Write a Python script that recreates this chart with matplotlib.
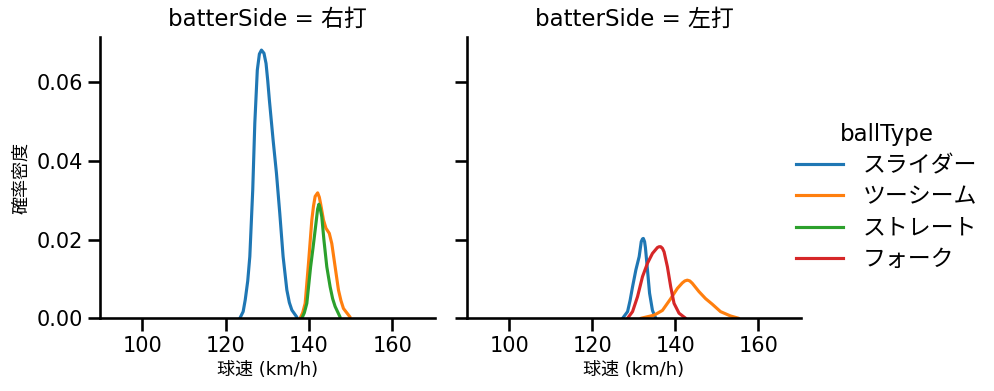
import matplotlib
matplotlib.use("Agg")
import matplotlib.pyplot as plt
from matplotlib.lines import Line2D

plt.rcParams['font.family'] = ['DejaVu Sans', 'Noto Sans CJK JP']

# ---- data (x = km/h, y = density) ----
ball_types = ["スライダー", "ツーシーム", "ストレート", "フォーク"]
colors = ["#1f77b4", "#ff7f0e", "#2ca02c", "#d62728"]
panels = ["右打", "左打"]

# 右打
r_slider_x = [123.4, 124.2, 124.7, 125.3, 125.8, 126.5, 127.0, 127.6, 128.1, 128.6, 129.2, 129.7, 130.1, 130.5, 131.4, 132.2, 133.0, 133.8, 134.7, 135.3, 135.9, 137.1]
r_slider_y = [0.0, 0.0017, 0.0047, 0.0095, 0.0157, 0.0326, 0.0496, 0.0631, 0.0672, 0.0682, 0.0674, 0.0648, 0.0605, 0.0555, 0.0453, 0.0369, 0.0267, 0.0157, 0.0072, 0.0040, 0.0021, 0.0003]
r_twoseam_x = [137.9, 138.5, 139.1, 139.9, 140.7, 141.1, 141.5, 142.1, 142.5, 142.8, 143.5, 144.1, 144.9, 145.5, 146.3, 147.1, 147.7, 148.3, 149.9]
r_twoseam_y = [0.0, 0.0014, 0.0038, 0.014, 0.025, 0.0285, 0.031, 0.0319, 0.0308, 0.0292, 0.025, 0.0229, 0.0216, 0.019, 0.0131, 0.0072, 0.0045, 0.0025, 0.0003]
r_straight_x = [138.3, 138.9, 139.5, 140.4, 141.0, 141.6, 142.1, 142.4, 142.7, 143.1, 143.6, 144.3, 145.1, 145.7, 146.3, 147.5]
r_straight_y = [0.0, 0.0014, 0.0038, 0.013, 0.018, 0.0233, 0.0278, 0.029, 0.028, 0.0258, 0.020, 0.0131, 0.008, 0.005, 0.003, 0.0003]

# 左打
l_slider_x = [127.3, 128.5, 129.1, 129.7, 130.5, 131.3, 131.8, 132.1, 132.3, 132.6, 132.8, 133.3, 133.8, 134.5, 135.3]
l_slider_y = [0.0, 0.0017, 0.0045, 0.008, 0.0123, 0.0157, 0.0195, 0.0202, 0.0203, 0.0195, 0.018, 0.0123, 0.0064, 0.002, 0.0]
l_twoseam_x = [131.7, 134.9, 136.9, 138.9, 140.5, 141.7, 142.3, 142.9, 143.5, 144.1, 145.7, 147.3, 148.9, 150.9, 153.3, 155.3]
l_twoseam_y = [0.0, 0.0008, 0.002, 0.005, 0.0076, 0.009, 0.0095, 0.0097, 0.0095, 0.0089, 0.0068, 0.005, 0.0036, 0.0017, 0.0006, 0.0]
l_fork_x = [128.5, 129.7, 130.9, 132.1, 133.3, 134.5, 135.7, 136.1, 136.5, 136.9, 137.3, 138.1, 138.9, 139.7, 140.9, 142.5]
l_fork_y = [0.0, 0.0017, 0.0055, 0.0106, 0.014, 0.0165, 0.018, 0.0182, 0.0182, 0.0178, 0.0169, 0.0131, 0.008, 0.0038, 0.0013, 0.0]

curves = {
    "右打": [("スライダー", r_slider_x, r_slider_y),
            ("ツーシーム", r_twoseam_x, r_twoseam_y),
            ("ストレート", r_straight_x, r_straight_y)],
    "左打": [("スライダー", l_slider_x, l_slider_y),
            ("ツーシーム", l_twoseam_x, l_twoseam_y),
            ("フォーク", l_fork_x, l_fork_y)],
}
xticks = [100, 120, 140, 160]
yticks = [0.00, 0.02, 0.04, 0.06]

W, H = 995, 391
fig = plt.figure(figsize=(W / 100, H / 100), dpi=100)

def frac(l, t, r, b):
    return [l / W, 1 - b / H, (r - l) / W, (b - t) / H]

axes = [fig.add_axes(frac(100, 36.7, 435, 318.3)),
        fig.add_axes(frac(467, 36.7, 801, 318.3))]

cmap = dict(zip(ball_types, colors))
for ax, side in zip(axes, panels):
    for name, xs, ys in curves[side]:
        ax.plot(xs, ys, color=cmap[name], lw=2.25, solid_capstyle='round', solid_joinstyle='round')
    ax.set_xlim(89.8, 170.3)
    ax.set_ylim(0, 0.0716)
    ax.set_xticks(xticks)
    ax.set_yticks(yticks)
    for s in ['top', 'right']:
        ax.spines[s].set_visible(False)
    for s in ['left', 'bottom']:
        ax.spines[s].set_linewidth(1.875)
    ax.tick_params(width=1.875, length=9, labelsize=15)
    ax.set_title(f"batterSide = {side}", fontsize=16.5, pad=8)
    ax.set_xlabel("球速 (km/h)", fontsize=13)

axes[0].set_yticklabels([f"{v:.2f}" for v in yticks])
axes[0].set_ylabel("確率密度", fontsize=13)
axes[1].tick_params(labelleft=False)

handles = [Line2D([], [], color=c, lw=2.25) for c in colors]
leg = fig.legend(handles, ball_types, title="ballType", loc='center left',
                 bbox_to_anchor=(775.5 / W, 1 - 197 / H), frameon=False,
                 fontsize=16.5, title_fontsize=16.5, handlelength=2.05,
                 handletextpad=0.85, labelspacing=0.35)

fig.savefig("out.png", dpi=100)
